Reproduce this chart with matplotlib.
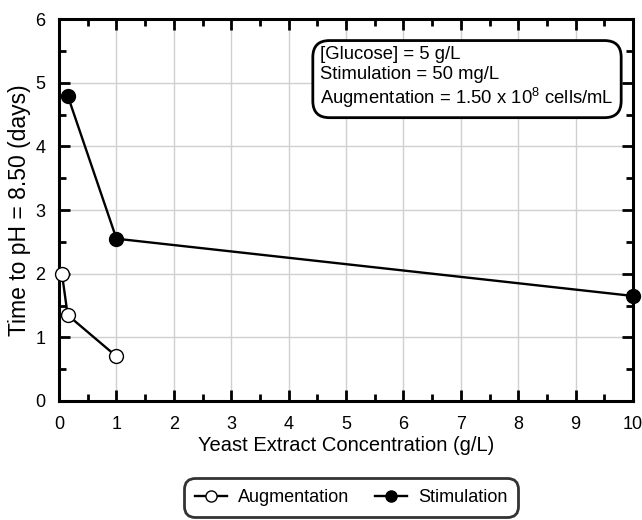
import matplotlib
matplotlib.use("Agg")
import matplotlib.pyplot as plt
from matplotlib.ticker import MultipleLocator

plt.rcParams['font.family'] = ['Liberation Sans', 'DejaVu Sans']
plt.rcParams['mathtext.fontset'] = 'custom'
plt.rcParams['mathtext.rm'] = 'Liberation Sans'

aug_x = [0.05, 0.15, 1.0]
aug_y = [2.0, 1.35, 0.7]
stim_x = [0.15, 1.0, 10.0]
stim_y = [4.8, 2.55, 1.65]

fig = plt.figure(figsize=(6.42, 5.2), dpi=100)
ax = fig.add_axes([0.092, 0.229, 0.894, 0.734])

ax.plot(aug_x, aug_y, '-o', color='black', lw=1.7, ms=10, mfc='white',
        mec='black', mew=1.0, label='Augmentation', clip_on=False, zorder=4)
ax.plot(stim_x, stim_y, '-o', color='black', lw=1.7, ms=10, mfc='black',
        mec='black', label='Stimulation', clip_on=False, zorder=5)

ax.set_xlim(0, 10)
ax.set_ylim(0, 6)
ax.xaxis.set_major_locator(MultipleLocator(1))
ax.xaxis.set_minor_locator(MultipleLocator(0.5))
ax.yaxis.set_major_locator(MultipleLocator(1))
ax.yaxis.set_minor_locator(MultipleLocator(0.5))
ax.grid(True, which='major', color='#d0d0d0', lw=1)
ax.set_axisbelow(True)

for s in ax.spines.values():
    s.set_linewidth(2.2)
ax.tick_params(which='both', direction='in', top=True, right=True,
               width=2, labelsize=13)
ax.tick_params(axis='x', which='both', pad=11)
ax.tick_params(axis='y', which='both', pad=10)
ax.tick_params(which='major', length=8)
ax.tick_params(which='minor', length=5)

ax.set_xlabel('Yeast Extract Concentration (g/L)', fontsize=14.5, labelpad=2)
ax.set_ylabel('Time to pH = 8.50 (days)', fontsize=16.5, labelpad=3)

ax.text(0.455, 0.93,
        '[Glucose] = 5 g/L\nStimulation = 50 mg/L\nAugmentation = 1.50 x 10$^{\\mathrm{8}}$ cells/mL',
        transform=ax.transAxes, fontsize=13.3, va='top', ha='left',
        linespacing=1.2,
        bbox=dict(boxstyle='round,pad=0.4,rounding_size=0.9', fc='white',
                  ec='black', lw=2))

leg = fig.legend(loc='lower center', bbox_to_anchor=(0.547, 0.006), ncol=2,
                 fontsize=13, frameon=True, fancybox=True, markerscale=0.8,
                 handlelength=1.8, columnspacing=1.4, borderpad=0.4,
                 handletextpad=0.6, borderaxespad=0.2)
leg.get_frame().set_edgecolor('black')
leg.get_frame().set_linewidth(2)
leg.get_frame().set_boxstyle('round,pad=0.2,rounding_size=0.6')

fig.savefig('out.png', dpi=100)
